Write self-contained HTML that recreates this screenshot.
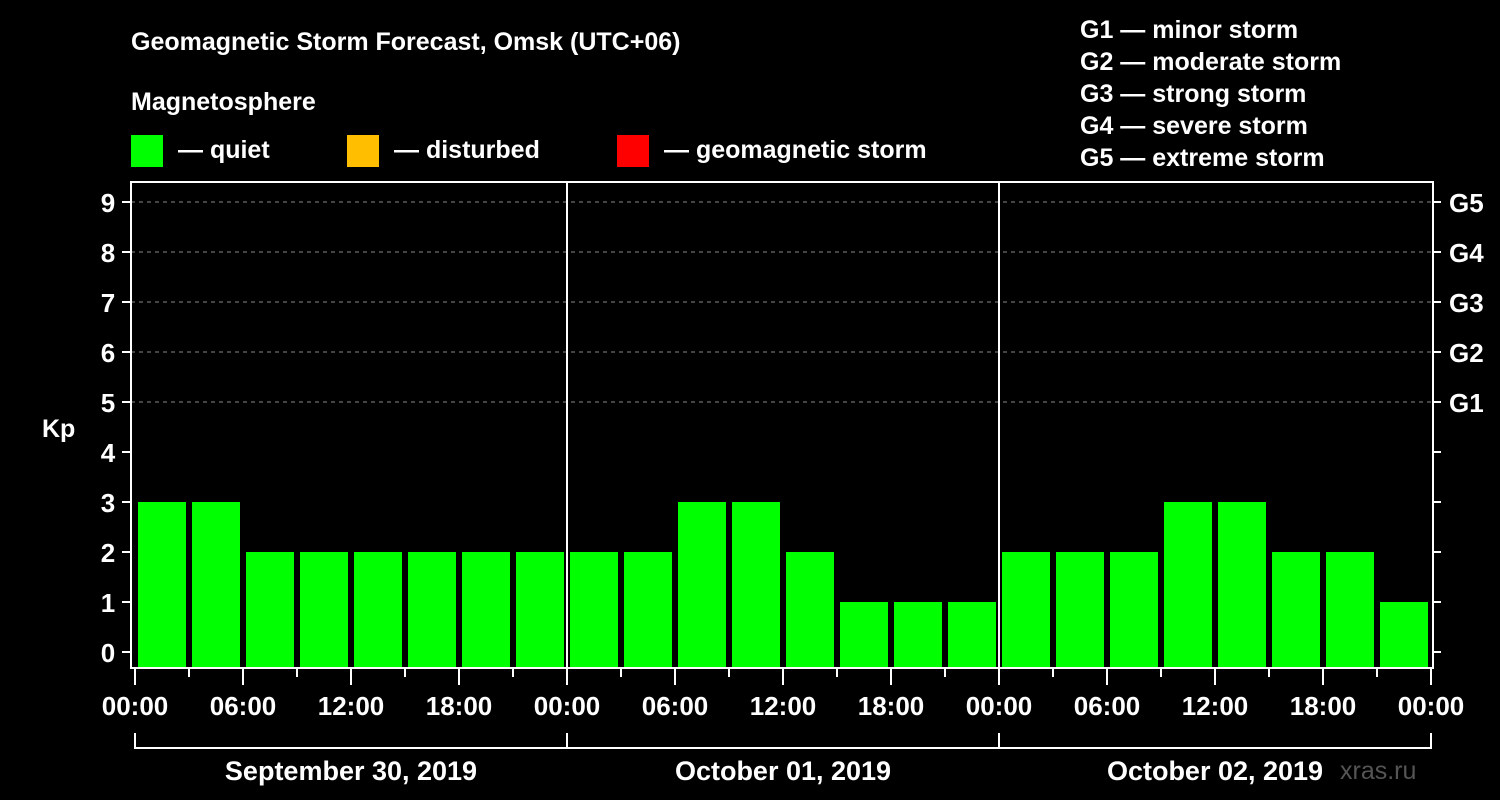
<!DOCTYPE html>
<html><head><meta charset="utf-8"><style>
html,body{margin:0;padding:0;background:#000;}
svg{display:block;font-family:"Liberation Sans",Arial,sans-serif;font-weight:bold;}
</style></head><body>
<svg id="chart" width="1500" height="800" viewBox="0 0 1500 800">
<rect width="1500" height="800" fill="#000"/>
<text x="131" y="50" font-size="25" fill="#fff">Geomagnetic Storm Forecast, Omsk (UTC+06)</text>
<text x="131" y="110" font-size="25" fill="#fff">Magnetosphere</text>
<g><rect x="131" y="135" width="32" height="32" fill="#00ff00"/><text x="178" y="158" font-size="25" fill="#fff">— quiet</text></g>
<g><rect x="347" y="135" width="32" height="32" fill="#ffbf00"/><text x="394" y="158" font-size="25" fill="#fff">— disturbed</text></g>
<g><rect x="617" y="135" width="32" height="32" fill="#ff0000"/><text x="664" y="158" font-size="25" fill="#fff">— geomagnetic storm</text></g>
<g font-size="25" fill="#fff">
<text x="1080" y="38">G1 — minor storm</text>
<text x="1080" y="70">G2 — moderate storm</text>
<text x="1080" y="102">G3 — strong storm</text>
<text x="1080" y="134">G4 — severe storm</text>
<text x="1080" y="166">G5 — extreme storm</text>
</g>
<text x="42" y="437" font-size="25" fill="#fff">Kp</text>
<text x="1340" y="779" font-size="25" fill="#555" font-weight="normal">xras.ru</text>
<g id="grid"></g><g id="bars"></g><g id="axes"></g>
</svg>
<script>
const kpValues = [3,3,2,2,2,2,2,2, 2,2,3,3,2,1,1,1, 2,2,2,3,3,2,2,1];
const yTicks = [0,1,2,3,4,5,6,7,8,9];
const gLabels = ["G1","G2","G3","G4","G5"];
const gLevels = [5,6,7,8,9];
const timeLabels = ["00:00","06:00","12:00","18:00"];
const dayLabels = ["September 30, 2019","October 01, 2019","October 02, 2019"];

const NS="http://www.w3.org/2000/svg";
const X0=135, PX_H=18, Y0=652, PX_K=50, LEFT=131, RIGHT=1433, TOP=182, BOT=668;
const xh=h=>X0+h*PX_H, yk=v=>Y0-v*PX_K;
function mk(tag,attrs,parent,txt){const e=document.createElementNS(NS,tag);for(const k in attrs)e.setAttribute(k,attrs[k]);if(txt!==undefined)e.textContent=txt;document.getElementById(parent).appendChild(e);return e;}

gLevels.forEach((v,i)=>{
  const l=mk('line',{x1:LEFT,x2:RIGHT,y1:yk(v),y2:yk(v),stroke:'#888','stroke-dasharray':'4 4','stroke-width':1},'grid');
  
  
  const t=mk('text',{x:1449,y:yk(v)+10,'font-size':26,fill:'#fff'},'axes',gLabels[i]);
  
  
});
kpValues.forEach((v,i)=>{
  const x=xh(i*3)+3;
  const r=mk('rect',{x:x,y:yk(v),width:48,height:BOT-yk(v),fill:'#00ff00'},'bars');
  
  
});
const frame=mk('rect',{x:LEFT,y:TOP,width:RIGHT-LEFT,height:BOT-TOP,fill:'none',stroke:'#fff','stroke-width':2},'axes');


yTicks.forEach(v=>{
  mk('line',{x1:122,x2:LEFT,y1:yk(v),y2:yk(v),stroke:'#fff','stroke-width':2},'axes');
  mk('line',{x1:RIGHT,x2:1441,y1:yk(v),y2:yk(v),stroke:'#fff','stroke-width':2},'axes');
  const t=mk('text',{x:108,y:yk(v)+10,'font-size':26,fill:'#fff','text-anchor':'middle'},'axes',String(v));
  
  
});
for(let d=0;d<dayLabels.length;d++){
  if(d>0){const s=mk('line',{x1:xh(d*24),x2:xh(d*24),y1:TOP,y2:BOT,stroke:'#fff','stroke-width':2},'axes');
    
    }
  for(let h=0;h<24;h+=3){
    const major=h%6===0;
    mk('line',{x1:xh(d*24+h),x2:xh(d*24+h),y1:BOT,y2:BOT+(major?17:9),stroke:'#fff','stroke-width':2},'axes');
  }
  timeLabels.forEach((lab,j)=>{
    const t=mk('text',{x:xh(d*24+j*6),y:715,'font-size':26,fill:'#fff','text-anchor':'middle'},'axes',lab);
    
    
  });
  mk('path',{d:`M${xh(d*24)} 733 V748 H${xh(d*24+24)} V733`,fill:'none',stroke:'#fff','stroke-width':2},'axes');
  const dl=mk('text',{x:xh(d*24+12),y:780,'font-size':27,fill:'#fff','text-anchor':'middle'},'axes',dayLabels[d]);
  
  
}
mk('line',{x1:xh(72),x2:xh(72),y1:BOT,y2:BOT+17,stroke:'#fff','stroke-width':2},'axes');
const lt=mk('text',{x:xh(72),y:715,'font-size':26,fill:'#fff','text-anchor':'middle'},'axes','00:00');


</script>
</body></html>
